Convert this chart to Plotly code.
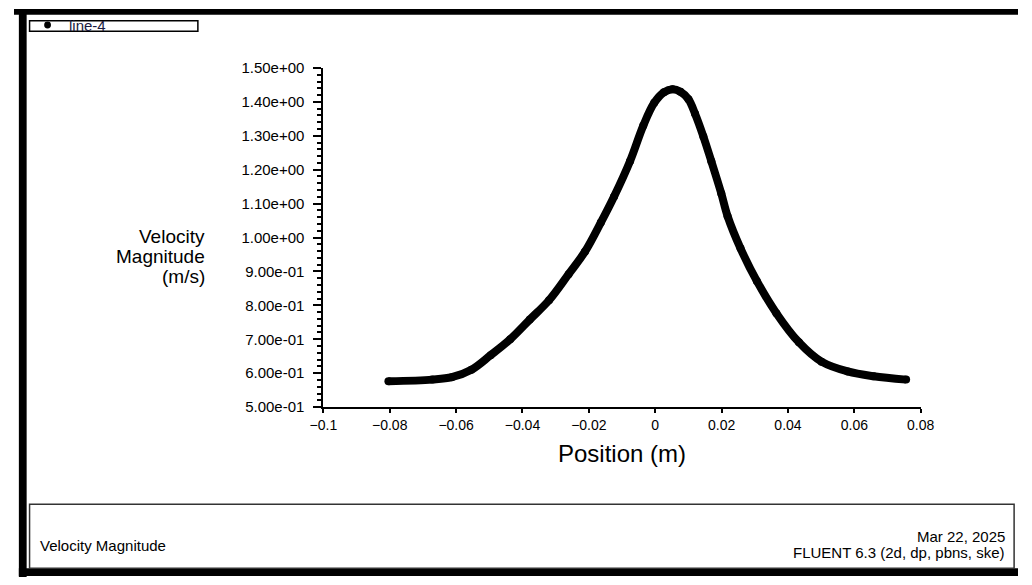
import plotly.graph_objects as go

# ---- data ----
position = [-0.0804, -0.0672, -0.0613, -0.0554, -0.0496, -0.0437, -0.0378, -0.0320,
            -0.0261, -0.0212, -0.0164, -0.0124, -0.0076, -0.0036, -0.0003, 0.0026,
            0.0052, 0.0076, 0.0100, 0.0120, 0.0145, 0.0169, 0.0199, 0.0218, 0.0257,
            0.0306, 0.0365, 0.0433, 0.0501, 0.0580, 0.0658, 0.0756]
velocity = [0.576, 0.581, 0.588, 0.610, 0.653, 0.700, 0.758, 0.815,
            0.892, 0.958, 1.044, 1.121, 1.225, 1.330, 1.397, 1.428,
            1.437, 1.430, 1.408, 1.365, 1.298, 1.225, 1.130, 1.063, 0.968,
            0.872, 0.777, 0.691, 0.634, 0.605, 0.591, 0.581]

y_tickvals = [0.5, 0.6, 0.7, 0.8, 0.9, 1.0, 1.1, 1.2, 1.3, 1.4, 1.5]
y_ticktext = ["5.00e-01", "6.00e-01", "7.00e-01", "8.00e-01", "9.00e-01", "1.00e+00",
              "1.10e+00", "1.20e+00", "1.30e+00", "1.40e+00", "1.50e+00"]
x_tickvals = [-0.1, -0.08, -0.06, -0.04, -0.02, 0, 0.02, 0.04, 0.06, 0.08]
x_ticktext = ["\u22120.1", "\u22120.08", "\u22120.06", "\u22120.04", "\u22120.02",
              "0", "0.02", "0.04", "0.06", "0.08"]

series_name = "line-4"
x_title = "Position (m)"
y_title_lines = ["Velocity", "Magnitude", "(m/s)"]
footer_left = "Velocity Magnitude"
footer_right = ["Mar 22, 2025", "FLUENT 6.3 (2d, dp, pbns, ske)"]

# ---- layout helpers (reference pixel -> paper fraction) ----
W, H = 1032, 585
def PX(x):
    return x / W
def PY(y):
    return 1 - y / H

FONT = "Liberation Sans, Arial, sans-serif"

fig = go.Figure(
    go.Scatter(
        x=position, y=velocity, name=series_name,
        mode="lines+markers",
        line=dict(color="black", width=8, shape="spline", smoothing=1.0),
        marker=dict(color="black", size=8),
    )
)

fig.update_layout(
    autosize=True,
    margin=dict(l=0, r=0, t=0, b=0),
    paper_bgcolor="white", plot_bgcolor="white",
    showlegend=False,
    xaxis=dict(
        domain=[PX(318), PX(932)], range=[-0.1, 0.08],
        tickvals=x_tickvals, ticktext=x_ticktext,
        ticks="outside", ticklen=4, tickwidth=1.5, tickcolor="black",
        showline=True, linecolor="black", linewidth=2,
        showgrid=False, zeroline=False,
        ticklabelstandoff=0,
        tickfont=dict(family=FONT, size=14, color="black"),
    ),
    yaxis=dict(
        domain=[PY(410), PY(60.7)], range=[0.5, 1.5],
        tickvals=y_tickvals, ticktext=y_ticktext,
        ticks="outside", ticklen=8, tickwidth=1.5, tickcolor="black",
        showline=True, linecolor="black", linewidth=2,
        showgrid=False, zeroline=False,
        ticklabelstandoff=6,
        tickfont=dict(family=FONT, size=15, color="black"),
        minor=dict(tick0=0.5, dtick=0.02, ticks="outside", ticklen=4,
                   tickwidth=1.5, tickcolor="black", showgrid=False),
    ),
)

shapes = [
    # black frame
    dict(type="rect", xref="paper", yref="paper", x0=PX(0), x1=PX(1032), y0=PY(0), y1=PY(6),
         fillcolor="black", line=dict(width=0)),
    dict(type="rect", xref="paper", yref="paper", x0=PX(5), x1=PX(13), y0=PY(0), y1=PY(585),
         fillcolor="black", line=dict(width=0)),
    dict(type="rect", xref="paper", yref="paper", x0=PX(5), x1=PX(1032), y0=PY(576), y1=PY(584),
         fillcolor="black", line=dict(width=0)),
    # footer box
    dict(type="rect", xref="paper", yref="paper", x0=PX(16), x1=PX(1028), y0=PY(576), y1=PY(510),
         line=dict(color="#333333", width=1.5)),
    # legend box
    dict(type="rect", xref="paper", yref="paper", x0=PX(16), x1=PX(189), y0=PY(23), y1=PY(12),
         line=dict(color="black", width=1.5)),
    # legend symbol
    dict(type="circle", xref="paper", yref="paper", x0=PX(31), x1=PX(38), y0=PY(20), y1=PY(13),
         fillcolor="black", line=dict(width=0)),
]

annotations = [
    dict(text=series_name, x=PX(54), y=PY(17), xanchor="left", yanchor="middle",
         font=dict(family=FONT, size=15, color="#1a1a40"), showarrow=False, xref="paper", yref="paper"),
    dict(text=x_title, x=PX(625), y=PY(458), xanchor="center", yanchor="middle",
         font=dict(family=FONT, size=24, color="black"), showarrow=False, xref="paper", yref="paper"),
    dict(text=footer_left, x=PX(25), y=PY(553), xanchor="left", yanchor="middle",
         font=dict(family=FONT, size=15, color="black"), showarrow=False, xref="paper", yref="paper"),
    dict(text=footer_right[0], x=PX(1021), y=PY(543), xanchor="right", yanchor="middle",
         font=dict(family=FONT, size=15, color="black"), showarrow=False, xref="paper", yref="paper"),
    dict(text=footer_right[1], x=PX(1021), y=PY(560), xanchor="right", yanchor="middle",
         font=dict(family=FONT, size=15, color="black"), showarrow=False, xref="paper", yref="paper"),
]
for i, line in enumerate(y_title_lines):
    annotations.append(dict(text=line, x=PX(198), y=PY(234 + 21 * i), xanchor="right", yanchor="middle",
                            font=dict(family=FONT, size=19, color="black"), showarrow=False,
                            xref="paper", yref="paper"))

fig.update_layout(shapes=shapes, annotations=annotations)

fig.write_html(
    "out.html",
    default_width="100vw",
    default_height="100vh",
    config={"displayModeBar": False, "responsive": True},
    post_script=(
        "document.documentElement.style.margin='0';"
        "document.documentElement.style.overflow='hidden';"
        "document.body.style.margin='0';document.body.style.padding='0';"
        "document.body.style.overflow='hidden';"
        "var gd=document.getElementById('{plot_id}');"
        "if(gd){Plotly.Plots.resize(gd);}"
    ),
)
